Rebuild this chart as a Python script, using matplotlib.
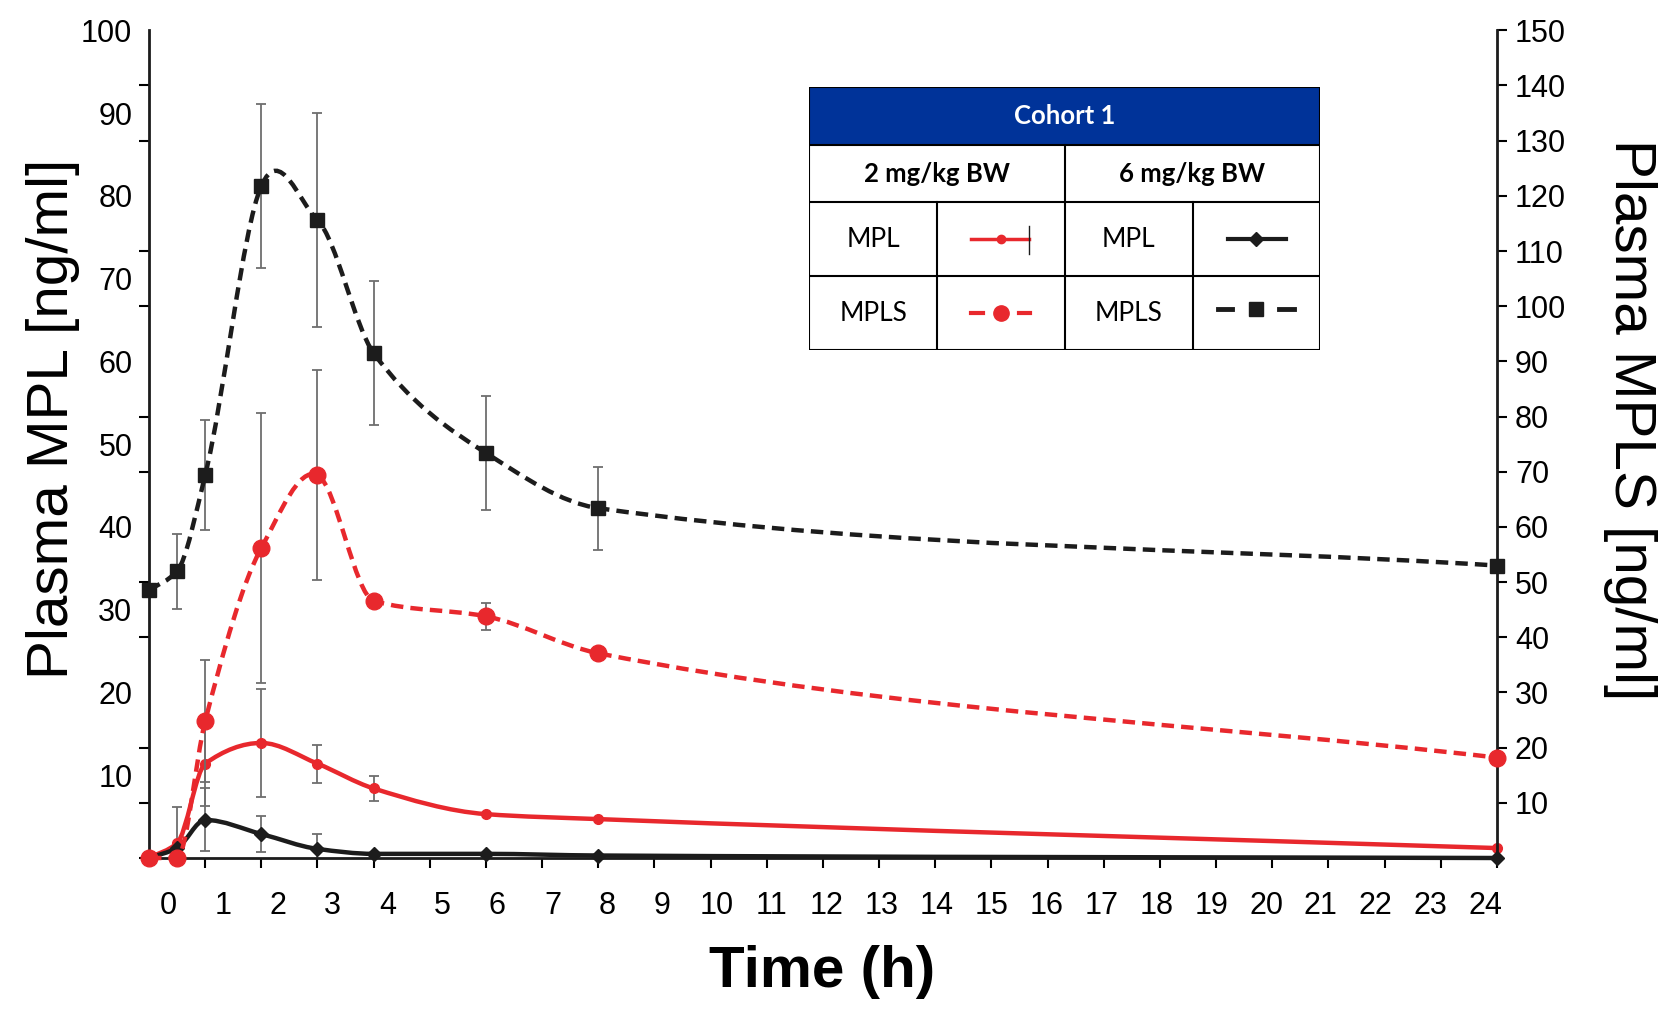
import numpy as np
import matplotlib
matplotlib.use("Agg")
import matplotlib.pyplot as plt
from matplotlib.path import Path
from matplotlib.patches import PathPatch, Rectangle

plt.rcParams['font.family'] = ['Liberation Sans', 'DejaVu Sans']

# sampling times (h)
t = [0, 0.5, 1, 2, 3, 4, 6, 8, 24]

# plasma MPL, left axis (ng/ml)
mpl_2 = [0, 1.8, 11.4, 13.9, 11.4, 8.4, 5.3, 4.7, 1.2]
mpl_2_err = [np.nan, 4.4, 5.1, 6.5, 2.3, 1.5, np.nan, np.nan, np.nan]
mpl_6 = [0, 1.2, 4.6, 2.9, 1.1, 0.5, 0.5, 0.3, 0]
mpl_6_err = [np.nan, np.nan, 3.8, 2.2, 1.8, np.nan, np.nan, np.nan, np.nan]

# plasma MPLS, right axis (ng/ml)
mpls_2 = [0, 0, 24.8, 56.2, 69.4, 46.6, 43.8, 37.1, 18.2]
mpls_2_err = [np.nan, np.nan, 11, 24.5, 19, np.nan, 2.4, np.nan, np.nan]
mpls_6 = [48.5, 52, 69.4, 121.8, 115.6, 91.5, 73.4, 63.4, 53]
mpls_6_err = [np.nan, 6.8, 10, 14.8, 19.4, 13, 10.3, 7.5, np.nan]

hours = list(range(25))
left_labels = list(range(10, 101, 10))
right_labels = list(range(10, 151, 10))

RED = '#e8282d'
BLK = '#1c1c1c'
GREY = '#6e6e6e'


def smooth_path(x, y, overshoot=True):
    # cubic hermite through the points, drawn as bezier segments
    x = np.asarray(x, float)
    y = np.asarray(y, float)
    h = np.diff(x)
    d = np.diff(y) / h
    m = np.zeros_like(x)
    m[0] = d[0]
    m[-1] = d[-1]
    for i in range(1, len(x) - 1):
        if d[i - 1] * d[i] > 0:
            w1 = 2 * h[i] + h[i - 1]
            w2 = h[i] + 2 * h[i - 1]
            m[i] = (w1 + w2) / (w1 / d[i - 1] + w2 / d[i])
        elif d[i - 1] * d[i] < 0 and overshoot:
            m[i] = (h[i] * d[i - 1] + h[i - 1] * d[i]) / (h[i - 1] + h[i])
    verts = [(x[0], y[0])]
    codes = [Path.MOVETO]
    for i in range(len(x) - 1):
        verts += [(x[i] + h[i] / 3, y[i] + m[i] * h[i] / 3),
                  (x[i + 1] - h[i] / 3, y[i + 1] - m[i + 1] * h[i] / 3),
                  (x[i + 1], y[i + 1])]
        codes += [Path.CURVE4] * 3
    return Path(verts, codes)


def series(a, x, y, err, color, ls, marker, ms, overshoot=True):
    err = np.asarray(err, float)
    ok = ~np.isnan(err)
    a.errorbar(np.asarray(x)[ok], np.asarray(y)[ok], yerr=err[ok], fmt='none',
               ecolor=GREY, elinewidth=1.3, capsize=3.5, capthick=1.3, zorder=1)
    a.add_patch(PathPatch(smooth_path(x, y, overshoot), fill=False,
                          edgecolor=color, lw=3.2, linestyle=ls, zorder=2,
                          clip_on=False))
    a.plot(x, y, linestyle='none', marker=marker, ms=ms, color=color,
           zorder=3, clip_on=False)


fig = plt.figure(figsize=(16.65, 10.1), dpi=100)
ax = fig.add_axes([0.0895, 0.1505, 0.8095, 0.8195])
ax.set_xlim(0, 24)
ax.set_ylim(0, 100)
ax2 = ax.twinx()
ax2.set_ylim(0, 150)

dash = (0, (2.8, 1.6))
series(ax, t, mpl_2, mpl_2_err, RED, '-', 'o', 7)
series(ax, t, mpl_6, mpl_6_err, BLK, '-', 'D', 7, overshoot=False)
series(ax2, t, mpls_2, mpls_2_err, RED, dash, 'o', 12)
series(ax2, t, mpls_6, mpls_6_err, BLK, dash, 's', 10)

for s in ['top', 'right']:
    ax.spines[s].set_visible(False)
for s in ['top', 'left', 'bottom']:
    ax2.spines[s].set_visible(False)
for a in (ax, ax2):
    for s in a.spines.values():
        s.set_linewidth(2)
        s.set_color(BLK)

# left axis
ax.set_yticks(left_labels)
ax.set_yticks(np.arange(0, 101, 20 / 3), minor=True)
ax.tick_params(axis='y', which='major', length=0, pad=12, labelsize=22)
ax.tick_params(axis='y', which='minor', length=7, width=1.5)

# time axis: tick marks at hours, labels as printed in the figure
ax.set_xticks(hours[1:], minor=True)
ax.set_xticks(np.linspace(0.34, 23.8, 25))
ax.set_xticklabels([str(h) for h in hours])
ax.tick_params(axis='x', which='major', length=0, pad=24, labelsize=22)
ax.tick_params(axis='x', which='minor', length=7, width=1.5)

# right axis
ax2.set_yticks(right_labels)
ax2.tick_params(axis='y', length=7, width=1.5, pad=6, labelsize=22)

fig.text(0.032, 0.585, 'Plasma MPL [ng/ml]', rotation=90, ha='center',
         va='center', fontsize=42)
fig.text(0.979, 0.585, 'Plasma MPLS [ng/ml]', rotation=270, ha='center',
         va='center', fontsize=42)
fig.text(0.494, 0.038, 'Time (h)', ha='center', va='center', fontsize=42,
         fontweight='bold')

# legend table
tb = fig.add_axes([0.486, 0.653, 0.307, 0.261])
tb.set_xlim(0, 4)
tb.set_ylim(263, 0)
tb.axis('off')
rows = [0, 58, 115, 189, 263]
tb.add_patch(Rectangle((0, 0), 4, 58, facecolor='#003399', edgecolor='none'))
tb.add_patch(Rectangle((0, 0), 4, 263, fill=False, edgecolor='black', lw=1.5))
for r in rows[1:-1]:
    tb.plot([0, 4], [r, r], color='black', lw=1.5)
tb.plot([2, 2], [58, 263], color='black', lw=1.5)
for c in (1, 3):
    tb.plot([c, c], [115, 263], color='black', lw=1.5)

tf = ['Lato', 'DejaVu Sans']
tb.text(2, 29, 'Cohort 1', color='white', fontweight='bold', fontsize=18.5,
        ha='center', va='center', family=tf)
tb.text(1, 86.5, '2 mg/kg BW', fontweight='bold', fontsize=18.5, ha='center',
        va='center', family=tf)
tb.text(3, 86.5, '6 mg/kg BW', fontweight='bold', fontsize=18.5, ha='center',
        va='center', family=tf)
for c in (0.5, 2.5):
    tb.text(c, 152, 'MPL', fontsize=19, ha='center', va='center', family=tf)
    tb.text(c, 226, 'MPLS', fontsize=19, ha='center', va='center', family=tf)

# legend samples
tb.plot([1.27, 1.72], [152, 152], color=RED, lw=2.5)
tb.plot([1.5], [152], marker='o', ms=6, color=RED)
tb.plot([1.72, 1.72], [139, 167], color=BLK, lw=1)
tb.plot([1.27, 1.36], [226, 226], color=RED, lw=3)
tb.plot([1.64, 1.73], [226, 226], color=RED, lw=3)
tb.plot([1.5], [226], marker='o', ms=11, color=RED)
tb.plot([3.28, 3.73], [152, 152], color=BLK, lw=3)
tb.plot([3.5], [152], marker='D', ms=7, color=BLK)
tb.plot([3.2, 3.31], [222, 222], color=BLK, lw=3.5)
tb.plot([3.68, 3.79], [222, 222], color=BLK, lw=3.5)
tb.plot([3.5], [222], marker='s', ms=10, color=BLK)

fig.savefig('out.png', dpi=100, facecolor='white')
